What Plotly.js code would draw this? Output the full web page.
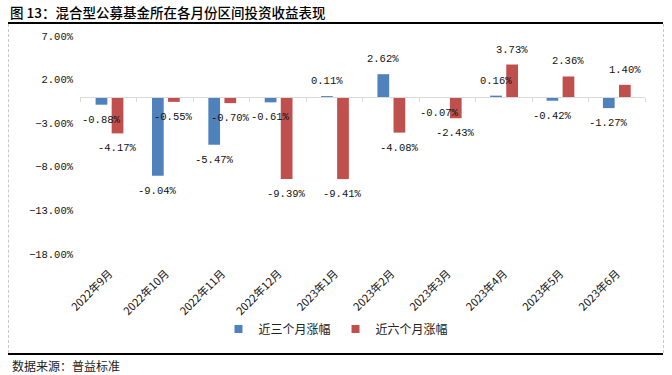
<!DOCTYPE html>
<html>
<head>
<meta charset="utf-8">
<script src="https://cdn.plot.ly/plotly-3.0.1.min.js"></script>
<style>
  html, body { margin: 0; padding: 0; background: #fff; }
  #wrap { position: relative; width: 672px; height: 375px; overflow: hidden; }
  #chart { position: absolute; left: 0; top: 0; width: 672px; height: 375px; }
  .hline { position: absolute; left: 8px; width: 655px; height: 2px; background: #000; }
  .vdash { position: absolute; top: 24px; height: 329px; width: 0; border-left: 1px dashed #c8c8c8; }
</style>
</head>
<body>
<div id="wrap">
  <div id="chart"></div>
  <div class="hline" style="top:22px"></div>
  <div class="hline" style="top:353px"></div>
  <div class="vdash" style="left:8px"></div>
  <div class="vdash" style="left:663px"></div>
</div>
<script>
const categories = ["2022年9月", "2022年10月", "2022年11月", "2022年12月", "2023年1月",
                    "2023年2月", "2023年3月", "2023年4月", "2023年5月", "2023年6月"];
const threeMonth = [-0.88, -9.04, -5.47, -0.61, 0.11, 2.62, -0.07, 0.16, -0.42, -1.27];
const sixMonth   = [-4.17, -0.55, -0.70, -9.39, -9.41, -4.08, -2.43, 3.73, 2.36, 1.40];
const seriesNames = ["近三个月涨幅", "近六个月涨幅"];
const yRange = [-18, 7];
const titleText = "图 13：混合型公募基金所在各月份区间投资收益表现";
const sourceText = "数据来源：普益标准";

const W = 672, H = 375;
const M = { l: 80, r: 27, t: 36, b: 121 };
const pw = W - M.l - M.r, ph = H - M.t - M.b;
const numFont = "Liberation Mono, DejaVu Sans Mono, monospace";
const cjkFont = "Noto Sans CJK SC, sans-serif";
const colors = ["#4f81bd", "#c0504d"];

const fmt = v => v.toFixed(2) + "%";

const traces = [
  { type: "bar", name: seriesNames[0], x: categories, y: threeMonth,
    marker: { color: colors[0] }, hoverinfo: "skip", showlegend: false },
  { type: "bar", name: seriesNames[1], x: categories, y: sixMonth,
    marker: { color: colors[1] }, hoverinfo: "skip", showlegend: false },
  { type: "scatter", mode: "markers", name: seriesNames[0], x: [null], y: [null],
    marker: { symbol: "square", size: 8, color: colors[0] }, hoverinfo: "skip" },
  { type: "scatter", mode: "markers", name: seriesNames[1], x: [null], y: [null],
    marker: { symbol: "square", size: 8, color: colors[1] }, hoverinfo: "skip" },
  { type: "scatter", x: [], y: [], xaxis: "x2", showlegend: false, hoverinfo: "skip" }
];

const annotations = [];
[[threeMonth, -8], [sixMonth, 8]].forEach(([vals, dx]) => {
  vals.forEach((v, i) => {
    annotations.push({
      x: categories[i], y: v, xref: "x", yref: "y", text: fmt(v),
      showarrow: false, xshift: dx, yshift: v >= 0 ? 15 : -15,
      xanchor: "center", yanchor: "middle",
      font: { family: numFont, size: 10.5, color: "#111" }
    });
  });
});
annotations.push({
  xref: "paper", yref: "paper",
  x: (10 - M.l) / pw, y: (H - 365 - M.b) / ph,
  xanchor: "left", yanchor: "middle", showarrow: false,
  text: sourceText, font: { family: cjkFont, size: 12, color: "#222" }
});

const n = categories.length;
const boundaries = [];
for (let i = 0; i <= n; i++) boundaries.push(i - 0.5);

const layout = {
  width: W, height: H,
  margin: M,
  paper_bgcolor: "rgba(0,0,0,0)", plot_bgcolor: "rgba(0,0,0,0)",
  title: {
    text: titleText, xref: "container", yref: "container",
    x: 10 / W, xanchor: "left", y: 1 - 13 / H, yanchor: "middle",
    font: { family: cjkFont, size: 13.5, color: "#000", weight: 500 }
  },
  barmode: "group", bargap: 0.43, bargroupgap: 0.27,
  showlegend: true,
  legend: {
    orientation: "h", xref: "container", yref: "container",
    x: 0.5, xanchor: "center", y: 1 - 329 / H, yanchor: "middle",
    font: { family: cjkFont, size: 12, color: "#222" },
    itemwidth: 30, tracegroupgap: 0
  },
  xaxis: {
    type: "category", showline: false, showgrid: false, zeroline: false,
    ticks: "", tickangle: -45, ticklabelstandoff: 10,
    tickfont: { family: cjkFont, size: 11, color: "#111" },
    fixedrange: true
  },
  xaxis2: {
    type: "linear", overlaying: "x", anchor: "free",
    position: (0 - yRange[0]) / (yRange[1] - yRange[0]),
    range: [-0.5, n - 0.5], tickmode: "array", tickvals: boundaries,
    ticks: "outside", ticklen: 4, tickcolor: "#d9d9d9", tickwidth: 1,
    showline: true, linecolor: "#d9d9d9", linewidth: 1,
    showticklabels: false, showgrid: false, zeroline: false, fixedrange: true
  },
  yaxis: {
    range: yRange, tick0: yRange[0], dtick: 5, tickformat: ".2f", ticksuffix: "%",
    showgrid: false, zeroline: false, showline: false, ticks: "",
    ticklabelstandoff: 6,
    tickfont: { family: numFont, size: 10.5, color: "#111" },
    fixedrange: true
  },
  annotations: annotations
};

Plotly.newPlot("chart", traces, layout, { staticPlot: true, displayModeBar: false });
</script>
</body>
</html>
